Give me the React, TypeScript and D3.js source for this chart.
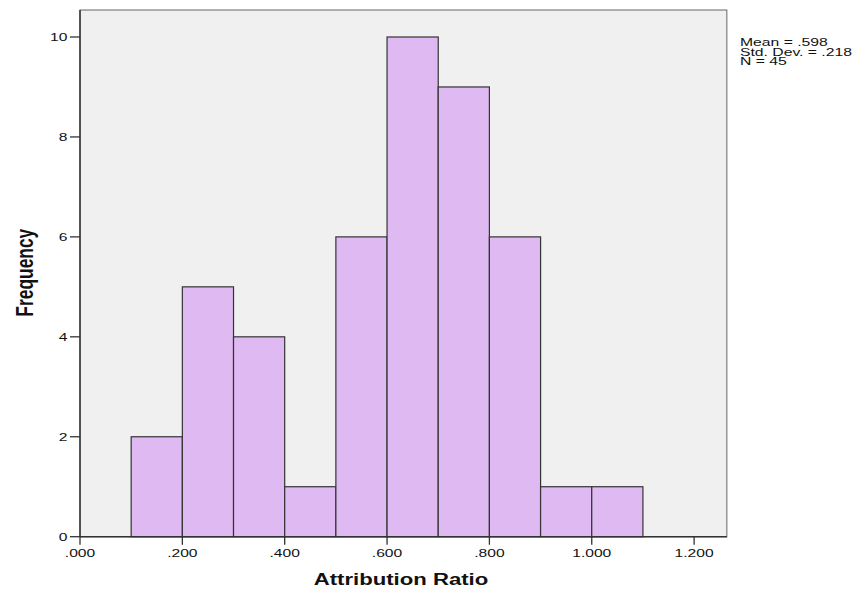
import React from "react";
import * as d3 from "d3";

const binStarts = [0.1, 0.2, 0.3, 0.4, 0.5, 0.6, 0.7, 0.8, 0.9, 1.0];
const frequencies = [2, 5, 4, 1, 6, 10, 9, 6, 1, 1];
const binWidth = 0.1;
const xTicks = [0, 0.2, 0.4, 0.6, 0.8, 1.0, 1.2];
const yTicks = [0, 2, 4, 6, 8, 10];
const statsLines = ["Mean = .598", "Std. Dev. = .218", "N = 45"];
const xTitle = "Attribution Ratio";
const yTitle = "Frequency";

const W = 861;
const H = 589;
const SX = 1.42;
const FONT = "'Liberation Sans', Arial, Helvetica, sans-serif";

const x = d3.scaleLinear().domain([0, 1.2]).range([80, 694.1]);
const y = d3.scaleLinear().domain([0, 10]).range([536.7, 37]);
const left = x(0);
const right = x(1.264);
const bottom = y(0);
const top = y(10.54);

function ST(props: {
  x: number;
  y: number;
  anchor?: string;
  size: number;
  weight?: string;
  rotate?: boolean;
  sx?: number;
  children: React.ReactNode;
}) {
  const s = props.sx ?? SX;
  return (
    <g transform={`translate(${props.x},${props.y}) scale(${s},1)${props.rotate ? " rotate(-90)" : ""}`}>
      <text
        x={0}
        y={0}
        textAnchor={props.anchor ?? "start"}
        fontSize={props.size}
        fontWeight={props.weight ?? "normal"}
        fontFamily={FONT}
        fill="#111"
      >
        {props.children}
      </text>
    </g>
  );
}

const fmtX = (v: number) => {
  const s = v.toFixed(3);
  return s.startsWith("0") ? s.slice(1) : s;
};

export default function App() {
  return (
    <svg width={W} height={H} style={{ position: "absolute", left: 0, top: 0, background: "#fff" }}>
      <rect x={left} y={top} width={right - left} height={bottom - top} fill="#f0f0f0" stroke="#666" strokeWidth={1} />
      {binStarts.map((b, i) => (
        <rect
          key={i}
          x={x(b)}
          y={y(frequencies[i])}
          width={x(b + binWidth) - x(b)}
          height={bottom - y(frequencies[i])}
          fill="#dfb9f1"
          stroke="#333"
          strokeWidth={1.2}
        />
      ))}
      <line x1={left} x2={left} y1={top} y2={bottom} stroke="#333" strokeWidth={1.5} />
      <line x1={left} x2={right} y1={bottom} y2={bottom} stroke="#333" strokeWidth={1.5} />
      {yTicks.map((t) => (
        <g key={"y" + t}>
          <line x1={left - 10} x2={left} y1={y(t)} y2={y(t)} stroke="#333" strokeWidth={1.3} />
          <ST x={left - 12.5} y={y(t) + 4} anchor="end" size={11}>
            {String(t)}
          </ST>
        </g>
      ))}
      {xTicks.map((t) => (
        <g key={"x" + t}>
          <line x1={x(t)} x2={x(t)} y1={bottom} y2={bottom + 8} stroke="#333" strokeWidth={1.3} />
          <ST x={x(t)} y={557} anchor="middle" size={11}>
            {fmtX(t)}
          </ST>
        </g>
      ))}
      <ST x={401} y={585} anchor="middle" size={15.6} weight="bold">
        {xTitle}
      </ST>
      <ST x={32.5} y={272.7} anchor="middle" size={17.4} weight="bold" rotate>
        {yTitle}
      </ST>
      {statsLines.map((l, i) => (
        <ST key={l} x={740} y={46.3 + i * 9.5} size={10.7} sx={1.47}>
          {l}
        </ST>
      ))}
    </svg>
  );
}
